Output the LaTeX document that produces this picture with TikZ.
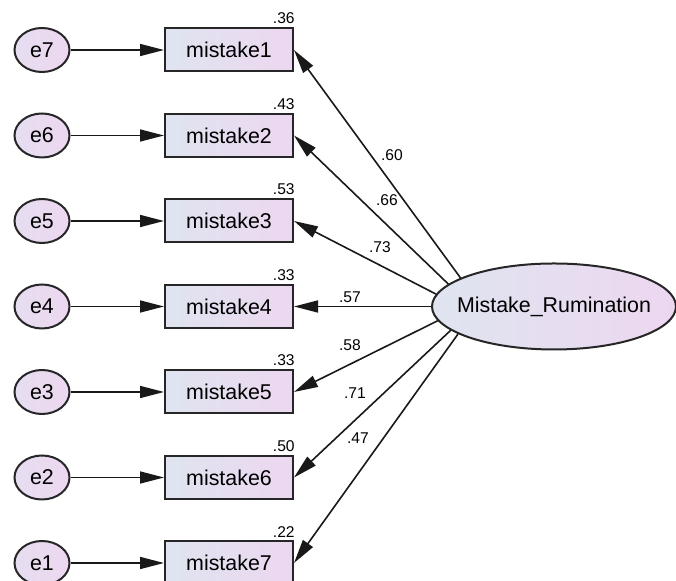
\documentclass[tikz,border=0pt]{standalone}
\usepackage{fontspec}
\setmainfont{Liberation Sans}
\usetikzlibrary{arrows.meta,shapes.geometric}
\definecolor{fillblue}{RGB}{223,228,240}
\definecolor{fillpink}{RGB}{237,215,240}

\begin{document}
\begin{tikzpicture}[x=0.5pt,y=-0.5pt,>={Triangle[length=12pt,width=6pt]},
  every node/.style={font=\fontsize{10.7}{12}\selectfont},
  obs/.style={rectangle,draw=black!85,line width=1pt,minimum width=64pt,minimum height=21.5pt,inner sep=0pt,left color=fillblue,right color=fillpink},
  err/.style={ellipse,draw=black!85,line width=1pt,minimum width=27.5pt,minimum height=22pt,inner sep=0pt,left color=fillblue!50!fillpink,right color=fillpink},
  latent/.style={ellipse,draw=black!85,line width=1pt,minimum width=122pt,minimum height=43pt,inner xsep=-7pt,inner ysep=0pt,left color=fillblue,right color=fillpink},
  path/.style={->,line width=0.8pt,black!90},
  rsq/.style={font=\fontsize{7.8}{9}\selectfont,anchor=south east,inner sep=1.5pt},
  load/.style={font=\fontsize{7.8}{9}\selectfont}]
\useasboundingbox (0,0) rectangle (676,581);
% latent factor
\node[latent] (rum) at (554,306.5) {Mistake\_Rumination};
% items, errors and loadings
\foreach \i/\e/\rv/\ang/\ld/\lx/\ly in {1/7/.36/163/.60/392/155,2/6/.43/168/.66/387/200,3/5/.53/174/.73/380/247,4/4/.33/180/.57/350/297,5/3/.33/187/.58/350/345,6/2/.50/193/.71/355/393,7/1/.22/196/.47/358/438}{
  \pgfmathsetmacro\yy{50+85.5*(\i-1)}
  \node[obs] (m\i) at (229,\yy) {mistake\i};
  \node[err] (e\e) at (42,\yy) {e\e};
  \node[rsq] (r\i) at ([xshift=2pt]m\i.north east) {\rv};
  \draw[path] (e\e) -- (m\i);
  \draw[path] (rum.\ang) -- (m\i.east);
  \node[load] (l\i) at (\lx,\ly) {\ld};
}
\end{tikzpicture}
\end{document}
